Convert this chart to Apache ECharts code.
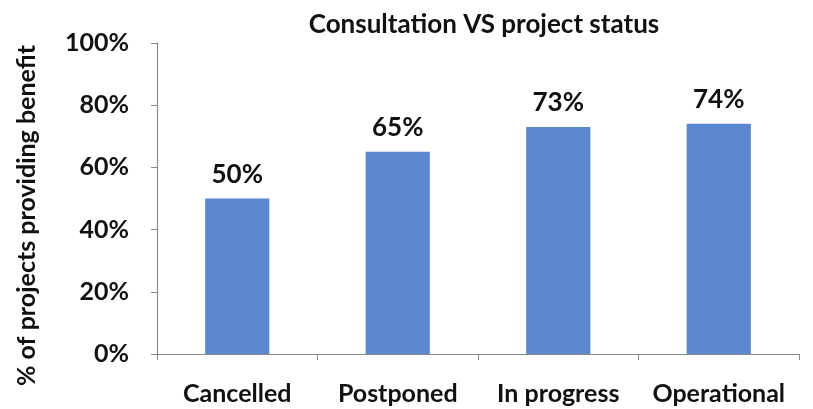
<!DOCTYPE html>
<html>
<head>
<meta charset="utf-8">
<script src="https://cdn.jsdelivr.net/npm/echarts@6/dist/echarts.min.js"></script>
<style>
  html, body { margin: 0; padding: 0; background: #fff; }
  #chart { width: 813px; height: 409px; }
</style>
</head>
<body>
<div id="chart"></div>
<script>
const categories = ['Cancelled', 'Postponed', 'In progress', 'Operational']
const benefitPct = [50, 65, 73, 74]
const yTicks = [0, 20, 40, 60, 80, 100]

const font = 'Lato'
const chart = echarts.init(document.getElementById('chart'))

const option = {
  backgroundColor: '#fff',
  title: {
    text: 'Consultation VS project status',
    left: 479,
    textAlign: 'center',
    top: 7,
    textStyle: { fontFamily: font, fontWeight: 'bold', fontSize: 26, color: '#111' }
  },
  grid: { left: 157, right: 14, top: 43, bottom: 55 },
  xAxis: {
    type: 'category',
    data: categories,
    axisLine: { lineStyle: { color: '#8a8a8a', width: 1.2 } },
    axisTick: { show: true, length: 6, alignWithLabel: false, lineStyle: { color: '#8a8a8a' } },
    axisLabel: { interval: 0, margin: 27, fontFamily: font, fontWeight: 'bold', fontSize: 25, color: '#111' }
  },
  yAxis: {
    type: 'value',
    min: 0,
    max: 100,
    interval: 20,
    name: '% of projects providing benefit',
    nameLocation: 'middle',
    nameGap: 118,
    nameTextStyle: { fontFamily: font, fontWeight: 'bold', fontSize: 25, color: '#111', padding: [0, 0, 0, -34] },
    axisLine: { show: true, lineStyle: { color: '#8a8a8a', width: 1.2 } },
    axisTick: { show: true, length: 6, lineStyle: { color: '#8a8a8a' } },
    splitLine: { show: false },
    axisLabel: {
      margin: 28,
      fontFamily: font, fontWeight: 'bold', fontSize: 25, color: '#111',
      formatter: v => yTicks.includes(v) ? v + '%' : ''
    }
  },
  series: [{
    type: 'bar',
    data: benefitPct,
    barWidth: '40%',
    itemStyle: { color: '#5b87ce' },
    label: {
      show: true,
      position: 'top',
      distance: 11,
      formatter: p => p.value + '%',
      fontFamily: font, fontWeight: 'bold', fontSize: 26, color: '#111'
    }
  }]
}

chart.setOption(option)
</script>
</body>
</html>
